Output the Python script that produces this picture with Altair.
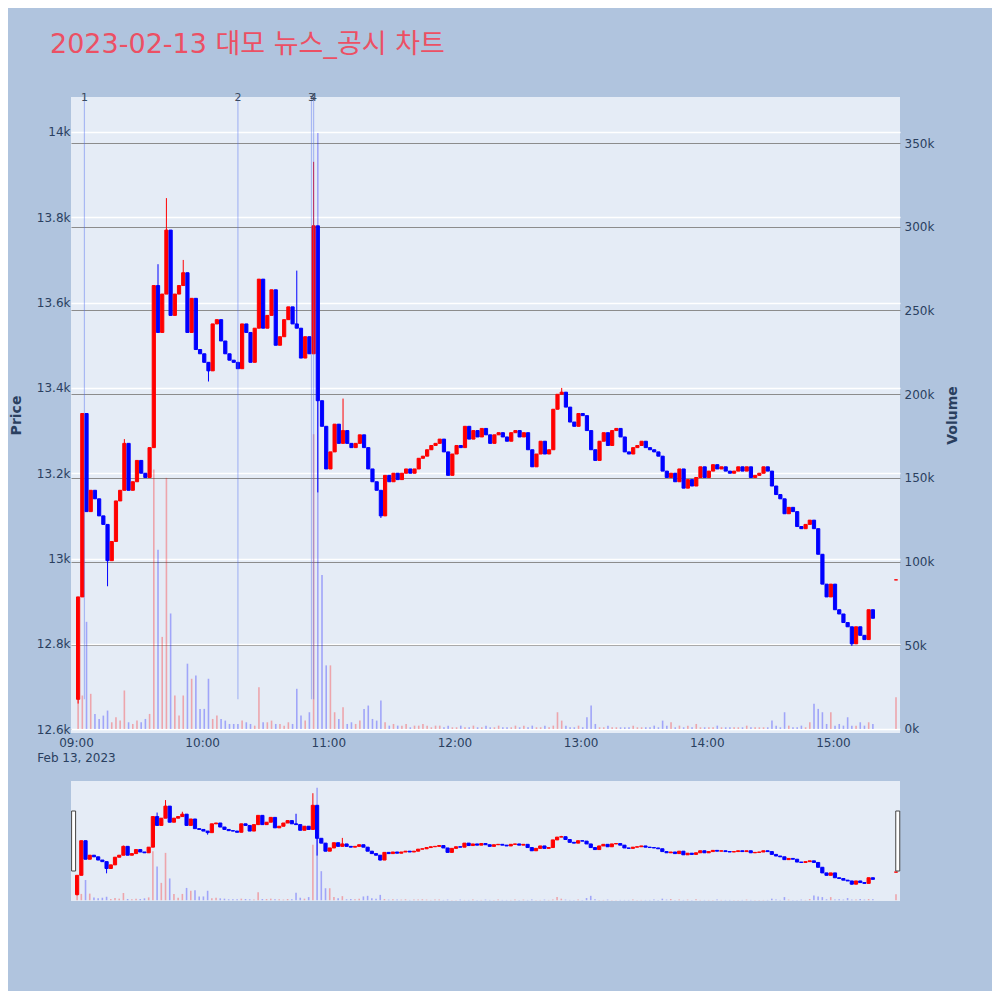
"""
Intraday news/disclosure candlestick chart with volume and range slider (Altair)
"""
import pandas as pd
import altair as alt

alt.data_transformers.disable_max_rows()

# ----------------------------------------------------------------------------
# Data (2-minute candles)
# ----------------------------------------------------------------------------
title_text = "2023-02-13 대모 뉴스_공시 차트"
session_date = "2023-02-13"
first_open = 12670

closes = [
    12910, 13340, 13110, 13160, 13140, 13100, 13080, 12995, 13040, 13135,
    13160, 13270, 13160, 13180, 13230, 13200, 13190, 13260, 13640, 13530,
    13620, 13770, 13570, 13620, 13640, 13670, 13530, 13610, 13490, 13480,
    13460, 13440, 13550, 13560, 13510, 13480, 13465, 13460, 13445, 13550,
    13530, 13460, 13540, 13655, 13540, 13570, 13630, 13500, 13520, 13560,
    13590, 13550, 13540, 13470, 13520, 13480, 13780, 13370, 13310, 13210,
    13250, 13315, 13270, 13300, 13270, 13260, 13270, 13290, 13260, 13210,
    13180, 13160, 13100, 13195, 13180, 13200, 13185, 13200, 13210, 13200,
    13210, 13235, 13240, 13255, 13265, 13270, 13280, 13250, 13195, 13245,
    13265, 13260, 13310, 13280, 13300, 13285, 13305, 13290, 13270, 13290,
    13295, 13285, 13275, 13295, 13300, 13285, 13295, 13255, 13215, 13245,
    13275, 13245, 13255, 13350, 13385, 13390, 13355, 13320, 13310, 13340,
    13335, 13300, 13255, 13230, 13275, 13295, 13265, 13300, 13305, 13285,
    13250, 13245, 13260, 13265, 13275, 13260, 13255, 13250, 13240, 13205,
    13190, 13200, 13180, 13210, 13165, 13185, 13170, 13190, 13215, 13190,
    13205, 13220, 13210, 13215, 13205, 13200, 13205, 13215, 13205, 13215,
    13190, 13195, 13200, 13215, 13205, 13170, 13150, 13140, 13105, 13120,
    13110, 13075, 13070, 13080, 13090, 13070, 13010, 12940, 12910, 12940,
    12880, 12870, 12850, 12840, 12800, 12840, 12820, 12810, 12880, 12860,
]

# volume per candle, in thousands of shares
volumes_k = [
    21, 20, 64, 21, 9, 6, 8, 11, 4, 7,
    5, 23, 4, 3, 5, 4, 6, 9, 155, 107,
    55, 150, 69, 20, 8, 20, 39, 30, 32, 12,
    12, 30, 6, 8, 6, 5, 3, 3, 3, 5,
    4, 3, 2, 25, 4, 4, 5, 3, 3, 2,
    4, 3, 24, 8, 5, 10, 176, 356, 92, 38,
    38, 10, 6, 13, 3, 4, 3, 5, 12, 14,
    6, 5, 17, 4, 2, 3, 2, 2, 3, 1,
    2, 2, 3, 2, 1, 2, 2, 1, 2, 1,
    1, 2, 1, 1, 2, 1, 1, 2, 1, 1,
    2, 1, 1, 1, 2, 1, 2, 1, 2, 1,
    1, 2, 1, 2, 10, 5, 2, 1, 1, 2,
    1, 7, 14, 3, 1, 1, 2, 1, 1, 1,
    1, 1, 2, 1, 1, 1, 1, 2, 1, 5,
    2, 4, 1, 2, 1, 2, 1, 3, 1, 1,
    1, 1, 2, 1, 1, 1, 1, 1, 1, 2,
    1, 1, 1, 1, 1, 5, 2, 1, 10, 2,
    1, 1, 2, 1, 4, 15, 12, 10, 3, 10,
    2, 3, 2, 7, 2, 2, 4, 2, 4, 3,
]

# wicks that stick out of the bodies
wick_low_idx = [0, 7, 31, 57, 72, 184]
wick_low_val = [12660, 12935, 13415, 13155, 13095, 12795]
wick_high_idx = [11, 19, 21, 25, 52, 56, 63, 115]
wick_high_val = [13280, 13690, 13845, 13700, 13675, 13930, 13375, 13400]

# closing auction print
auction_time = "15:30"
auction_price = 12950
auction_volume_k = 19

# news / disclosure markers
news_times = ["09:04", "10:17", "10:52", "10:53"]
news_labels = ["1", "2", "3", "4"]
news_low = 12670

# ----------------------------------------------------------------------------
# Build table
# ----------------------------------------------------------------------------
times = pd.date_range(f"{session_date} 09:01", periods=len(closes), freq="2min")
opens = [first_open] + closes[:-1]
highs = [max(o, c) for o, c in zip(opens, closes)]
lows = [min(o, c) for o, c in zip(opens, closes)]
for i, v in zip(wick_low_idx, wick_low_val):
    lows[i] = min(lows[i], v)
for i, v in zip(wick_high_idx, wick_high_val):
    highs[i] = max(highs[i], v)

candles = pd.DataFrame({
    "time": times,
    "open": opens,
    "close": closes,
    "high": highs,
    "low": lows,
    "volume": [v * 1000 for v in volumes_k],
})
auction = pd.DataFrame({
    "time": [pd.Timestamp(f"{session_date} {auction_time}")],
    "open": [auction_price], "close": [auction_price],
    "high": [auction_price], "low": [auction_price],
    "volume": [auction_volume_k * 1000],
})
candles = pd.concat([candles, auction], ignore_index=True)
candles["dir"] = ["up" if c >= o else "down" for o, c in zip(candles["open"], candles["close"])]

price_top = 14082
price_bottom = 12591
news = pd.DataFrame({
    "time": [pd.Timestamp(f"{session_date} {t}") for t in news_times],
    "label": news_labels,
    "low": news_low,
    "top": price_top,
})

handles = pd.DataFrame({
    "time": [pd.Timestamp(f"{session_date} 08:59:20"), pd.Timestamp(f"{session_date} 15:30:50")],
})

# ----------------------------------------------------------------------------
# Scales / styles
# ----------------------------------------------------------------------------
font = "DejaVu Sans, Noto Sans CJK KR, sans-serif"
text_color = "#2a3f5f"

x_scale = alt.Scale(padding=0, domain=[
    alt.DateTime(year=2023, month=2, date=13, hours=8, minutes=57, seconds=37),
    alt.DateTime(year=2023, month=2, date=13, hours=15, minutes=31, seconds=54),
])
slider_x_scale = alt.Scale(padding=0, domain=[
    alt.DateTime(year=2023, month=2, date=13, hours=8, minutes=58, seconds=6),
    alt.DateTime(year=2023, month=2, date=13, hours=15, minutes=31, seconds=54),
])
price_scale = alt.Scale(domain=[price_bottom, price_top], nice=False, zero=False)
vol_scale = alt.Scale(domain=[-2400, 377500], nice=False, zero=False)
color_scale = alt.Scale(domain=["up", "down"], range=["#ff0000", "#0000ff"])

x_axis = alt.Axis(
    title=None,
    values=[alt.DateTime(year=2023, month=2, date=13, hours=h) for h in range(9, 16)],
    labelExpr="timeFormat(datum.value, '%H:%M') == '09:00' ? ['09:00', 'Feb 13, 2023'] : timeFormat(datum.value, '%H:%M')",
    grid=False, domain=False, ticks=False,
    labelColor=text_color, labelFontSize=12, labelPadding=4, labelLineHeight=15,
    labelFont=font,
)
price_axis = alt.Axis(
    title="Price", orient="left", format="~s",
    values=[12600, 12800, 13000, 13200, 13400, 13600, 13800, 14000],
    grid=True, gridColor="white", gridWidth=1.6, gridOpacity=1,
    domain=False, ticks=False,
    labelColor=text_color, labelFontSize=12, labelPadding=1, labelFont=font,
    titleColor=text_color, titleFontSize=14, titleFontWeight="bold", titlePadding=13,
    titleFont=font,
)
vol_axis = alt.Axis(
    title="Volume", orient="right", format="~s",
    values=[0, 50000, 100000, 150000, 200000, 250000, 300000, 350000],
    grid=True, gridColor="#8c8c8c", gridWidth=1.2, domain=False, ticks=False,
    labelColor=text_color, labelFontSize=12, labelPadding=4, labelFont=font,
    titleColor=text_color, titleFontSize=14, titleFontWeight="bold", titlePadding=12,
    titleAngle=270, titleBaseline="top", titleFont=font,
)

color = alt.Color("dir:N", scale=color_scale, legend=None)

# ----------------------------------------------------------------------------
# Main panel
# ----------------------------------------------------------------------------
base = alt.Chart(candles)

vol_bars = base.mark_bar(size=1.6, opacity=0.3).encode(
    x=alt.X("time:T", scale=x_scale, axis=x_axis),
    y=alt.Y("volume:Q", scale=vol_scale, axis=vol_axis),
    color=color,
)

wicks = base.mark_rule(strokeWidth=1).encode(
    x=alt.X("time:T", scale=x_scale, axis=x_axis),
    y=alt.Y("low:Q", scale=price_scale, axis=price_axis),
    y2="high:Q",
    color=color,
)

bodies = base.mark_bar(size=3.2, strokeWidth=1).encode(
    x=alt.X("time:T", scale=x_scale),
    y=alt.Y("open:Q", scale=price_scale),
    y2="close:Q",
    color=color,
    stroke=alt.Stroke("dir:N", scale=color_scale, legend=None),
)

news_rules = alt.Chart(news).mark_rule(color="#4d6bf0", opacity=0.4, strokeWidth=1.2).encode(
    x=alt.X("time:T", scale=x_scale),
    y=alt.Y("top:Q", scale=price_scale),
    y2="low:Q",
)

news_text = alt.Chart(news).mark_text(
    baseline="middle", align="center", fontSize=11, color="#3a4a60", font=font, dy=1
).encode(
    x=alt.X("time:T", scale=x_scale),
    y=alt.value(0),
    text="label:N",
)

price_layer = alt.layer(wicks, bodies, news_rules, news_text)

main = alt.layer(vol_bars, price_layer).resolve_scale(y="independent").properties(
    width=829,
    height=636,
    title=alt.Title(
        title_text, anchor="start", frame="group", offset=33, dx=-21,
        fontSize=27, fontWeight="normal", color="#ec5064", font=font,
    ),
)

# ----------------------------------------------------------------------------
# Range slider
# ----------------------------------------------------------------------------
s_vol = base.mark_bar(size=1.6, opacity=0.3).encode(
    x=alt.X("time:T", scale=slider_x_scale, axis=None),
    y=alt.Y("volume:Q", scale=vol_scale, axis=None),
    color=color,
)
s_wicks = base.mark_rule(strokeWidth=1).encode(
    x=alt.X("time:T", scale=slider_x_scale, axis=None),
    y=alt.Y("low:Q", scale=price_scale, axis=None),
    y2="high:Q",
    color=color,
)
s_bodies = base.mark_bar(size=3.2, strokeWidth=1).encode(
    x=alt.X("time:T", scale=slider_x_scale, axis=None),
    y=alt.Y("open:Q", scale=price_scale, axis=None),
    y2="close:Q",
    color=color,
    stroke=alt.Stroke("dir:N", scale=color_scale, legend=None),
)
s_handles = alt.Chart(handles).mark_bar(
    size=4, fill="white", stroke="#444444", strokeWidth=1
).encode(
    x=alt.X("time:T", scale=slider_x_scale, axis=None),
    y=alt.value(30),
    y2=alt.value(90),
)

slider = alt.layer(s_vol, alt.layer(s_wicks, s_bodies, s_handles)).resolve_scale(
    y="independent"
).properties(width=829, height=120)

chart = alt.vconcat(main, slider, spacing=18).resolve_scale(x="independent").properties(
    padding={"left": 1, "top": 23, "right": 32, "bottom": 90},
).configure(
    background="#b0c4de",
    font=font,
).configure_view(
    fill="#e5ecf6",
    stroke=None,
)

chart.save("out.html", embed_options={"renderer": "svg", "actions": False})
print("saved out.html")
